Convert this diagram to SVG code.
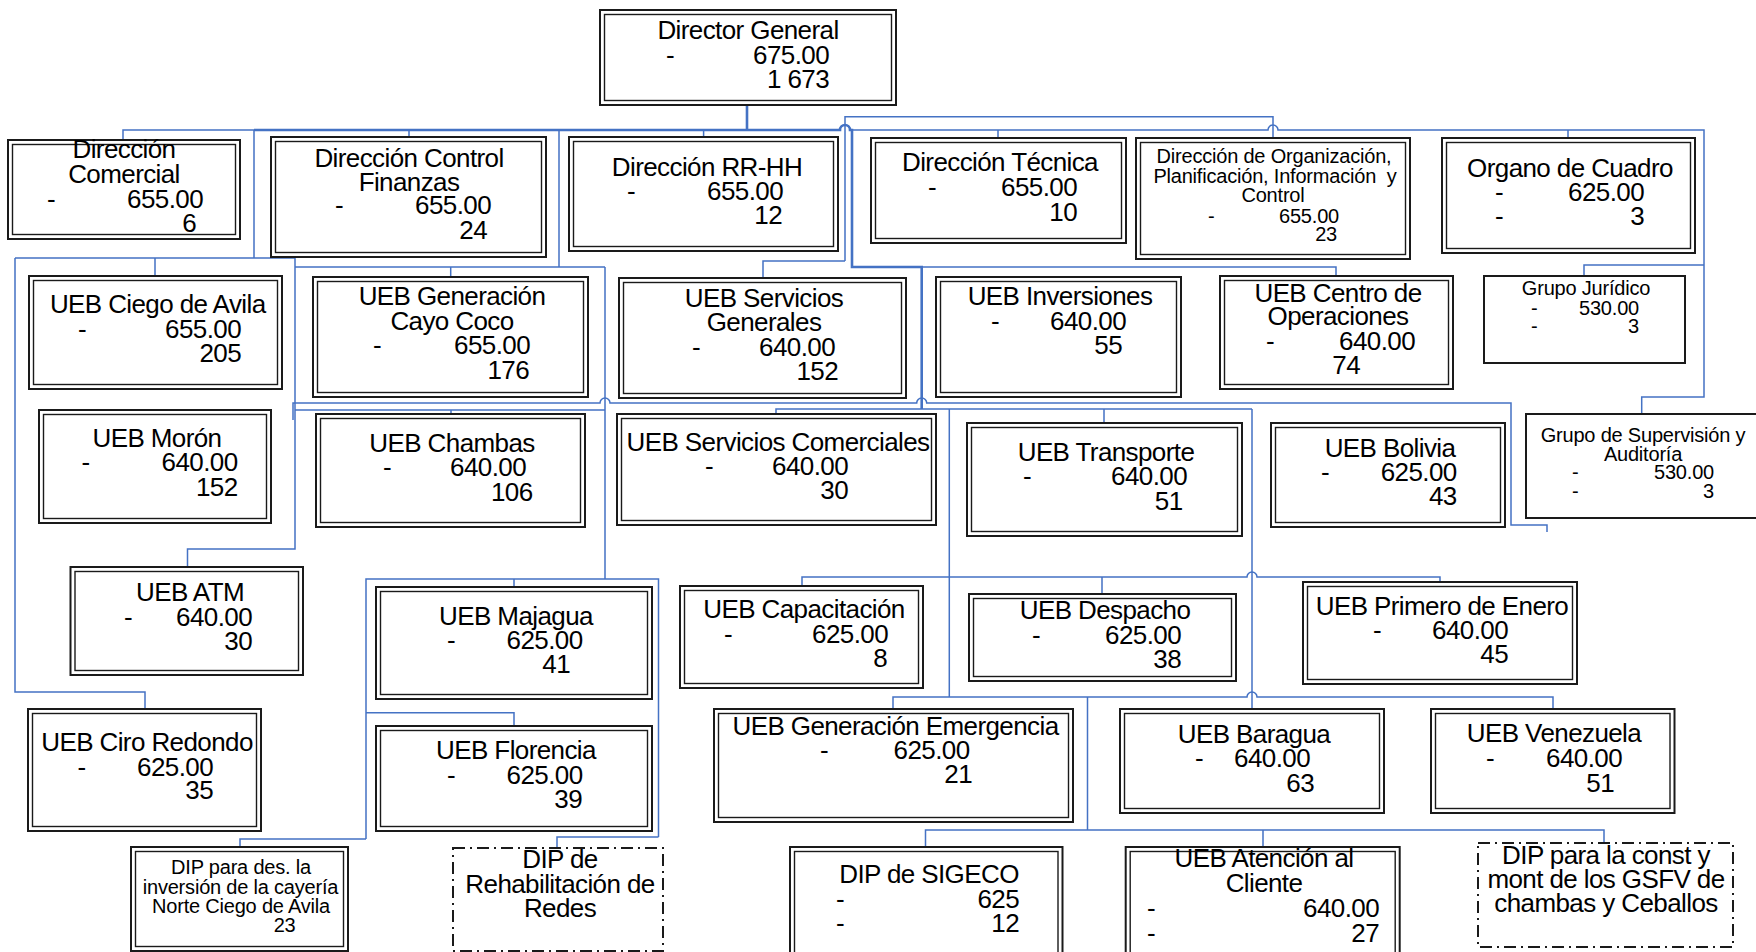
<svg xmlns="http://www.w3.org/2000/svg" width="1756" height="952" viewBox="0 0 1756 952">
<style>
.c{fill:none;stroke:#4472c4;stroke-width:1.5}
.k{fill:none;stroke:#4472c4;stroke-width:2.6}
.o{fill:#fff;stroke:#1a1a1a;stroke-width:2}
.i{fill:none;stroke:#1a1a1a;stroke-width:1.4}
.sg{fill:#fff;stroke:#1a1a1a;stroke-width:2}
.d{fill:#fff;stroke:#1a1a1a;stroke-width:2;stroke-dasharray:12 5 2 5}
text{font-family:"Liberation Sans",Arial,sans-serif;font-size:26px;letter-spacing:-0.6px;fill:#000}
.s{font-size:20px;letter-spacing:-0.2px}
.m{text-anchor:middle}
.e{text-anchor:end}
</style>
<rect width="1756" height="952" fill="#fff"/>
<g id="connectors">
<path class="k" d="M747 105V130M254 130H840A5 5 0 0 1 850 130H852V267H921.7V409"/>
<path class="c" d="M123 140V130H254M850 130H1268A5 5 0 0 1 1278 130H1704V397H1641.7V414M1584 276V265H1704"/>
<path class="c" d="M845 261V116.7H1273V137.7M763 278V261H845"/>
<path class="c" d="M409 130V137M703.6 130V137M998 130V138M1568 130V138"/>
<path class="c" d="M254 130V258M15 258H295M155 258V276M15 258V692H145V709M295 258V549H187.5V567"/>
<path class="c" d="M559 130V267M295 267H605M450.7 267V277M605 267V579"/>
<path class="c" d="M295 410H605M451 410V414"/>
<path class="c" d="M293 420V403H600A5 5 0 0 1 610 403H916.7A5 5 0 0 1 926.7 403H1511V525H1547V532"/>
<path class="c" d="M921.7 267H1336V276"/>
<path class="c" d="M776 414V409H1252M1104 409V423M949.3 409V697M1252 409V709"/>
<path class="c" d="M802 586V577H1247A5 5 0 0 1 1257 577H1440V582M1102 577V594"/>
<path class="c" d="M366 839V579H658.5V837M514 579V587M366 712.7H514V726M240 847V839H366M557 848V837H658.5"/>
<path class="c" d="M893 709V697H1247A5 5 0 0 1 1257 697H1553V709M1087.5 697V830M925.5 847V830H1604V843M1263 830V847"/>
</g>
<g id="n-director-general"><rect class="o" x="600" y="10" width="296" height="95"/><rect class="i" x="604.5" y="14.5" width="287" height="86"/>
<text class="m" x="748" y="39">Director General</text><text x="666" y="64">-</text><text class="e" x="829" y="64">675.00</text><text class="e" x="829" y="88">1 673</text></g>
<g id="n-comercial"><rect class="o" x="8" y="140" width="232" height="99"/><rect class="i" x="12.5" y="144.5" width="223" height="90"/>
<text class="m" x="124" y="158">Dirección</text><text class="m" x="124" y="183">Comercial</text><text x="47" y="208">-</text><text class="e" x="203" y="208">655.00</text><text class="e" x="196" y="232">6</text></g>
<g id="n-control-finanzas"><rect class="o" x="271" y="137" width="275" height="120"/><rect class="i" x="275.5" y="141.5" width="266" height="111"/>
<text class="m" x="409" y="167">Dirección Control</text><text class="m" x="409" y="191">Finanzas</text><text x="335" y="214">-</text><text class="e" x="491" y="214">655.00</text><text class="e" x="487" y="239">24</text></g>
<g id="n-rrhh"><rect class="o" x="569" y="137" width="269" height="114"/><rect class="i" x="573.5" y="141.5" width="260" height="105"/>
<text class="m" x="707" y="176">Dirección RR-HH</text><text x="627" y="200">-</text><text class="e" x="783" y="200">655.00</text><text class="e" x="782" y="224">12</text></g>
<g id="n-tecnica"><rect class="o" x="871" y="138" width="255" height="105"/><rect class="i" x="875.5" y="142.5" width="246" height="96"/>
<text class="m" x="1000" y="171">Dirección Técnica</text><text x="928" y="196">-</text><text class="e" x="1077" y="196">655.00</text><text class="e" x="1077" y="221">10</text></g>
<g id="n-organizacion"><rect class="o" x="1136" y="138" width="274" height="121"/><rect class="i" x="1140.5" y="142.5" width="265" height="112"/>
<text class="s m" x="1274" y="163">Dirección de Organización,</text><text class="s m" x="1275" y="183" xml:space="preserve">Planificación, Información  y</text><text class="s m" x="1273" y="202">Control</text>
<text class="s" x="1208" y="223">-</text><text class="s e" x="1339" y="223">655.00</text><text class="s e" x="1337" y="241">23</text></g>
<g id="n-organo-cuadro"><rect class="o" x="1442" y="138" width="253" height="115"/><rect class="i" x="1446.5" y="142.5" width="244" height="106"/>
<text class="m" x="1570" y="177">Organo de Cuadro</text><text x="1495" y="201">-</text><text class="e" x="1644" y="201">625.00</text><text x="1495" y="225">-</text><text class="e" x="1644" y="225">3</text></g>
<g id="n-grupo-juridico"><rect class="sg" x="1484" y="276" width="201" height="87"/>
<text class="s m" x="1586" y="295">Grupo Jurídico</text><text class="s" x="1531" y="315">-</text><text class="s e" x="1639" y="315">530.00</text><text class="s" x="1531" y="333">-</text><text class="s e" x="1639" y="333">3</text></g>
<g id="n-ciego"><rect class="o" x="29" y="276" width="253" height="113"/><rect class="i" x="33.5" y="280.5" width="244" height="104"/>
<text class="m" x="157.7" y="313">UEB Ciego de Avila</text><text x="78" y="338">-</text><text class="e" x="241" y="338">655.00</text><text class="e" x="241" y="362">205</text></g>
<g id="n-cayo-coco"><rect class="o" x="313" y="277" width="275" height="120"/><rect class="i" x="317.5" y="281.5" width="266" height="111"/>
<text class="m" x="452" y="305">UEB Generación</text><text class="m" x="452" y="330">Cayo Coco</text><text x="373" y="354">-</text><text class="e" x="530" y="354">655.00</text><text class="e" x="529" y="379">176</text></g>
<g id="n-serv-generales"><rect class="o" x="619" y="278" width="287" height="120"/><rect class="i" x="623.5" y="282.5" width="278" height="111"/>
<text class="m" x="764" y="307">UEB Servicios</text><text class="m" x="764" y="331">Generales</text><text x="692" y="356">-</text><text class="e" x="835" y="356">640.00</text><text class="e" x="838" y="380">152</text></g>
<g id="n-inversiones"><rect class="o" x="936" y="277" width="245" height="120"/><rect class="i" x="940.5" y="281.5" width="236" height="111"/>
<text class="m" x="1060" y="305">UEB Inversiones</text><text x="991" y="330">-</text><text class="e" x="1126" y="330">640.00</text><text class="e" x="1122" y="354">55</text></g>
<g id="n-centro-operaciones"><rect class="o" x="1220" y="276" width="233" height="113"/><rect class="i" x="1224.5" y="280.5" width="224" height="104"/>
<text class="m" x="1338" y="302">UEB Centro de</text><text class="m" x="1338" y="325">Operaciones</text><text x="1266" y="350">-</text><text class="e" x="1415" y="350">640.00</text><text class="e" x="1360" y="374">74</text></g>
<g id="n-moron"><rect class="o" x="39" y="410" width="232" height="113"/><rect class="i" x="43.5" y="414.5" width="223" height="104"/>
<text class="m" x="157" y="447">UEB Morón</text><text x="81.5" y="471">-</text><text class="e" x="237.5" y="471">640.00</text><text class="e" x="237.5" y="496">152</text></g>
<g id="n-chambas"><rect class="o" x="316" y="414" width="269" height="113"/><rect class="i" x="320.5" y="418.5" width="260" height="104"/>
<text class="m" x="452" y="452">UEB Chambas</text><text x="383" y="476">-</text><text class="e" x="526" y="476">640.00</text><text class="e" x="532.5" y="501">106</text></g>
<g id="n-serv-comerciales"><rect class="o" x="617" y="414" width="319" height="111"/><rect class="i" x="621.5" y="418.5" width="310" height="102"/>
<text class="m" x="778" y="451">UEB Servicios Comerciales</text><text x="705" y="475">-</text><text class="e" x="848" y="475">640.00</text><text class="e" x="848" y="499">30</text></g>
<g id="n-transporte"><rect class="o" x="967" y="423" width="275" height="113"/><rect class="i" x="971.5" y="427.5" width="266" height="104"/>
<text class="m" x="1106" y="461">UEB Transporte</text><text x="1023" y="485">-</text><text class="e" x="1187" y="485">640.00</text><text class="e" x="1182.5" y="510">51</text></g>
<g id="n-bolivia"><rect class="o" x="1271" y="423" width="234" height="104"/><rect class="i" x="1275.5" y="427.5" width="225" height="95"/>
<text class="m" x="1390" y="457">UEB Bolivia</text><text x="1321" y="481">-</text><text class="e" x="1456.7" y="481">625.00</text><text class="e" x="1456.7" y="505">43</text></g>
<g id="n-supervision"><rect class="sg" x="1526" y="414" width="240" height="104"/>
<text class="s m" x="1643" y="442">Grupo de Supervisión y</text><text class="s m" x="1643" y="461">Auditoría</text><text class="s" x="1572" y="479">-</text><text class="s e" x="1714" y="479">530.00</text><text class="s" x="1572" y="498">-</text><text class="s e" x="1714" y="498">3</text></g>
<g id="n-atm"><rect class="o" x="70.5" y="567" width="232.5" height="108"/><rect class="i" x="75" y="571.5" width="223.5" height="99"/>
<text class="m" x="190" y="601">UEB ATM</text><text x="124" y="626">-</text><text class="e" x="252" y="626">640.00</text><text class="e" x="252" y="650">30</text></g>
<g id="n-majagua"><rect class="o" x="376" y="587" width="276" height="112"/><rect class="i" x="380.5" y="591.5" width="267" height="103"/>
<text class="m" x="516" y="625">UEB Majagua</text><text x="447" y="649">-</text><text class="e" x="582.5" y="649">625.00</text><text class="e" x="570" y="673">41</text></g>
<g id="n-capacitacion"><rect class="o" x="680" y="586" width="243" height="102"/><rect class="i" x="684.5" y="590.5" width="234" height="93"/>
<text class="m" x="804" y="618">UEB Capacitación</text><text x="724" y="643">-</text><text class="e" x="888" y="643">625.00</text><text class="e" x="887" y="667">8</text></g>
<g id="n-despacho"><rect class="o" x="969" y="594" width="267" height="87"/><rect class="i" x="973.5" y="598.5" width="258" height="78"/>
<text class="m" x="1105" y="619">UEB Despacho</text><text x="1032" y="644">-</text><text class="e" x="1181" y="644">625.00</text><text class="e" x="1181" y="668">38</text></g>
<g id="n-primero-enero"><rect class="o" x="1303" y="582" width="274" height="102"/><rect class="i" x="1307.5" y="586.5" width="265" height="93"/>
<text class="m" x="1442" y="615">UEB Primero de Enero</text><text x="1373" y="639">-</text><text class="e" x="1508" y="639">640.00</text><text class="e" x="1508" y="663">45</text></g>
<g id="n-ciro-redondo"><rect class="o" x="28" y="709" width="233" height="122"/><rect class="i" x="32.5" y="713.5" width="224" height="113"/>
<text class="m" x="147" y="751">UEB Ciro Redondo</text><text x="77.5" y="776">-</text><text class="e" x="213" y="776">625.00</text><text class="e" x="213" y="799">35</text></g>
<g id="n-florencia"><rect class="o" x="376" y="726" width="276" height="105"/><rect class="i" x="380.5" y="730.5" width="267" height="96"/>
<text class="m" x="516" y="759">UEB Florencia</text><text x="447" y="784">-</text><text class="e" x="582.5" y="784">625.00</text><text class="e" x="582" y="808">39</text></g>
<g id="n-emergencia"><rect class="o" x="714" y="709" width="359" height="113"/><rect class="i" x="718.5" y="713.5" width="350" height="104"/>
<text class="m" x="895.5" y="735">UEB Generación Emergencia</text><text x="820" y="759">-</text><text class="e" x="969.5" y="759">625.00</text><text class="e" x="972" y="783">21</text></g>
<g id="n-baragua"><rect class="o" x="1120" y="709" width="264" height="104"/><rect class="i" x="1124.5" y="713.5" width="255" height="95"/>
<text class="m" x="1254" y="743">UEB Baragua</text><text x="1195" y="767">-</text><text class="e" x="1310" y="767">640.00</text><text class="e" x="1314" y="792">63</text></g>
<g id="n-venezuela"><rect class="o" x="1431" y="709" width="243.5" height="104"/><rect class="i" x="1435.5" y="713.5" width="234.5" height="95"/>
<text class="m" x="1554" y="742">UEB Venezuela</text><text x="1486" y="767">-</text><text class="e" x="1622" y="767">640.00</text><text class="e" x="1614" y="792">51</text></g>
<g id="n-dip-cayeria"><rect class="o" x="131" y="847" width="217" height="104"/><rect class="i" x="135.5" y="851.5" width="208" height="95"/>
<text class="s m" x="241" y="874">DIP para des. la</text><text class="s m" x="240.5" y="894">inversión de la cayería</text><text class="s m" x="241" y="913">Norte Ciego de Avila</text><text class="s e" x="295.5" y="932">23</text></g>
<g id="n-dip-rehabilitacion"><rect class="d" x="453" y="848" width="210" height="103"/>
<text class="m" x="560" y="868">DIP de</text><text class="m" x="560" y="893">Rehabilitación de</text><text class="m" x="560" y="917">Redes</text></g>
<g id="n-dip-sigeco"><rect class="o" x="790" y="847" width="272.5" height="115"/><rect class="i" x="794.5" y="851.5" width="263.5" height="106"/>
<text class="m" x="929" y="883">DIP de SIGECO</text><text x="836" y="908">-</text><text class="e" x="1019" y="908">625</text><text x="836" y="932">-</text><text class="e" x="1019" y="932">12</text></g>
<g id="n-atencion-cliente"><rect class="o" x="1125.7" y="847" width="274" height="115"/><rect class="i" x="1130.2" y="851.5" width="265" height="106"/>
<text class="m" x="1264" y="867">UEB Atención al</text><text class="m" x="1264" y="892">Cliente</text><text x="1147" y="917">-</text><text class="e" x="1379" y="917">640.00</text><text x="1147" y="942">-</text><text class="e" x="1379" y="942">27</text></g>
<g id="n-dip-gsfv"><rect class="d" x="1478" y="843" width="255" height="104"/>
<text class="m" x="1606" y="864">DIP para la const y</text><text class="m" x="1606" y="888">mont de los GSFV de</text><text class="m" x="1606" y="912">chambas y Ceballos</text></g>
</svg>
